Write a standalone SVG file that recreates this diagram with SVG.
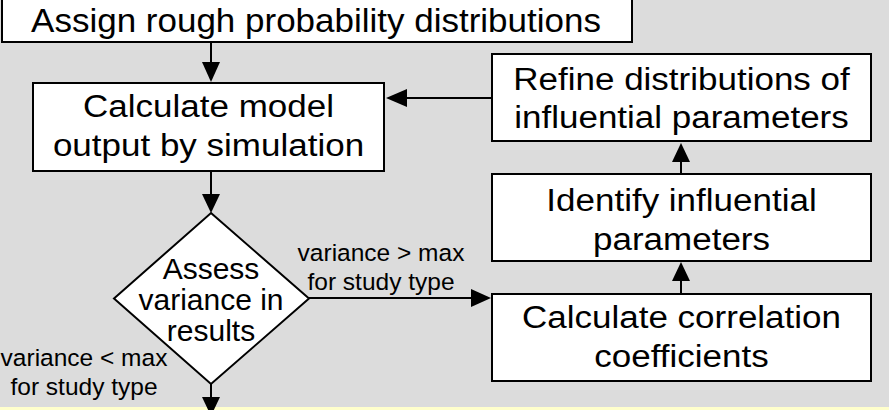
<svg xmlns="http://www.w3.org/2000/svg" width="889" height="410" viewBox="0 0 889 410">
  <defs>
    <style>
      .box { fill: #ffffff; stroke: #000000; stroke-width: 2; }
      .t { font-family: "Liberation Sans", Arial, sans-serif; font-size: 35px; fill: #000; text-anchor: middle; }
      .d { font-family: "Liberation Sans", Arial, sans-serif; font-size: 30px; fill: #000; text-anchor: middle; }
      .lbl { font-family: "Liberation Sans", Arial, sans-serif; font-size: 24.5px; fill: #000; text-anchor: middle; }
      .conn { stroke: #000; stroke-width: 2; fill: none; }
      .head { fill: #000; stroke: none; }
    </style>
  </defs>
  <rect x="0" y="0" width="889" height="410" fill="#dcdcdc"/>
  <rect x="0" y="407" width="889" height="3" fill="#ffffcc"/>

  <g id="connectors">
    <line class="conn" x1="211" y1="42" x2="211" y2="63"/>
    <polygon class="head" points="202,62 220,62 211,82"/>
    <line class="conn" x1="211" y1="171" x2="211" y2="195"/>
    <polygon class="head" points="202,194 220,194 211,213"/>
    <line class="conn" x1="492" y1="98" x2="405" y2="98"/>
    <polygon class="head" points="407,89 407,107 386,98"/>
    <line class="conn" x1="681" y1="174" x2="681" y2="160"/>
    <polygon class="head" points="672,162 690,162 681,143"/>
    <line class="conn" x1="681" y1="294" x2="681" y2="280"/>
    <polygon class="head" points="672,281 690,281 681,262"/>
    <line class="conn" x1="309" y1="298" x2="473" y2="298"/>
    <polygon class="head" points="471,289 471,307 491,298"/>
    <line class="conn" x1="211" y1="384" x2="211" y2="398"/>
    <polygon class="head" points="202,397 220,397 211,416"/>
    <text class="lbl" x="381" y="261">variance &gt; max</text>
    <text class="lbl" x="381" y="290">for study type</text>
    <text class="lbl" x="84" y="366">variance &lt; max</text>
    <text class="lbl" x="84" y="395">for study type</text>
  </g>

  <g id="assign">
    <rect class="box" x="2" y="-5" width="630" height="47"/>
    <text class="t" transform="translate(316,32) scale(1,0.95)">Assign rough probability distributions</text>
  </g>

  <g id="calculate-model">
    <rect class="box" x="33" y="83" width="351" height="88"/>
    <text class="t" transform="translate(208.5,117) scale(1,0.91)">Calculate model</text>
    <text class="t" transform="translate(208.5,156) scale(1,0.91)">output by simulation</text>
  </g>

  <g id="refine">
    <rect class="box" x="492" y="54" width="379" height="87"/>
    <text class="t" transform="translate(681.5,90) scale(1,0.91)">Refine distributions of</text>
    <text class="t" transform="translate(681.5,128) scale(1,0.91)">influential parameters</text>
  </g>

  <g id="identify">
    <rect class="box" x="492" y="174" width="379" height="87"/>
    <text class="t" transform="translate(681.5,211) scale(1,0.91)">Identify influential</text>
    <text class="t" transform="translate(681.5,250) scale(1,0.91)">parameters</text>
  </g>

  <g id="correlation">
    <rect class="box" x="492" y="294" width="379" height="87"/>
    <text class="t" transform="translate(681.5,328) scale(1,0.91)">Calculate correlation</text>
    <text class="t" transform="translate(681.5,367) scale(1,0.91)">coefficients</text>
  </g>

  <g id="assess">
    <polygon class="box" points="211,213 309,298.5 211,384 114,298.5"/>
    <text class="d" x="211" y="279">Assess</text>
    <text class="d" x="211" y="310">variance in</text>
    <text class="d" x="211" y="341">results</text>
  </g>
</svg>
